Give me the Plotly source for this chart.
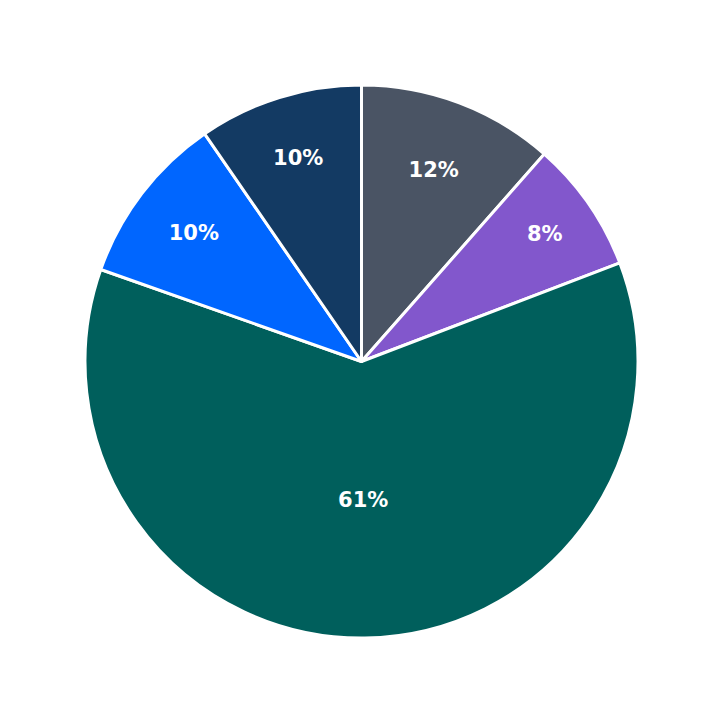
import plotly.graph_objects as go

labels = ["A", "B", "C", "D", "E"]
values = [11.5, 7.7, 61.2, 10.0, 9.6]
colors = ["#4a5464", "#8257cc", "#005f5c", "#0066ff", "#133a63"]

fig = go.Figure(go.Pie(
    labels=labels, values=values, sort=False, direction="clockwise", rotation=0,
    marker=dict(colors=colors, line=dict(color="white", width=3)),
    textinfo="percent", texttemplate="<b>%{percent:.0%}</b>", textposition="inside",
    insidetextorientation="horizontal",
    textfont=dict(color="white", size=21, family="DejaVu Sans"),
))
fig.update_layout(width=723, height=723, showlegend=False,
                  margin=dict(l=77, r=93, t=77, b=93),
                  paper_bgcolor="white")
fig.write_html("out.html")
